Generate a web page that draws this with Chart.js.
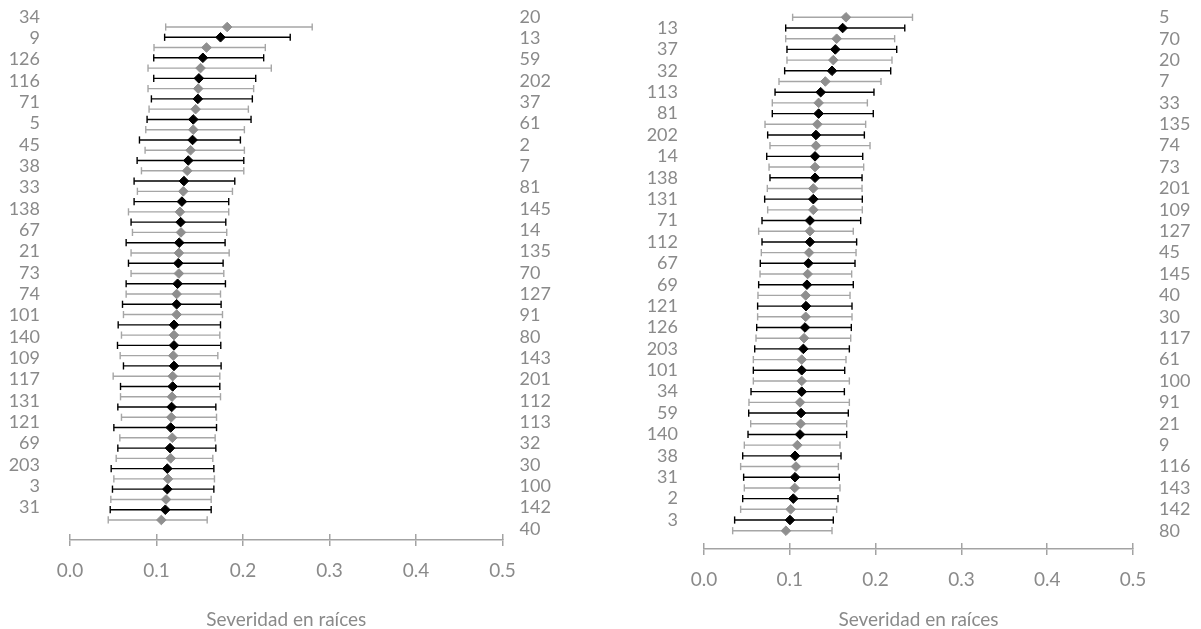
<!DOCTYPE html>
<html><head><meta charset="utf-8">
<script src="https://cdn.jsdelivr.net/npm/chart.js@4.4.1/dist/chart.umd.min.js"></script>
<style>
html,body{margin:0;padding:0;background:#fff;}
#wrap{position:relative;width:1201px;height:629px;overflow:hidden;background:#fff;}
canvas{position:absolute;top:0;}
#c1{left:0}
#c2{left:600px}
</style></head><body>
<div id="wrap"><canvas id="c1" width="600" height="629"></canvas><canvas id="c2" width="601" height="629"></canvas></div>
<script>
// ---------- Panel A (left) ----------
const labelsA_left  = ['34','9','126','116','71','5','45','38','33','138','67','21','73','74','101','140','109','117','131','121','69','203','3','31'];
const labelsA_right = ['20','13','59','202','37','61','2','7','81','145','14','135','70','127','91','80','143','201','112','113','32','30','100','142','40'];
const blackA_lo   = [0.1094,0.0968,0.0968,0.0941,0.0891,0.0803,0.0776,0.0741,0.0741,0.0706,0.0649,0.0676,0.0649,0.0607,0.0557,0.0549,0.0618,0.0584,0.0553,0.0507,0.0553,0.0476,0.0491,0.0465];
const blackA_mean = [0.1740,0.1536,0.1490,0.1478,0.1425,0.1417,0.1367,0.1317,0.1294,0.1279,0.1263,0.1252,0.1244,0.1233,0.1202,0.1202,0.1202,0.1187,0.1175,0.1164,0.1156,0.1125,0.1125,0.1102];
const blackA_hi   = [0.2546,0.2239,0.2147,0.2108,0.2093,0.1970,0.2009,0.1905,0.1835,0.1801,0.1793,0.1770,0.1797,0.1747,0.1740,0.1743,0.1747,0.1732,0.1686,0.1694,0.1686,0.1663,0.1663,0.1632];
const grayA_lo    = [0.1106,0.0971,0.0902,0.0902,0.0914,0.0876,0.0868,0.0826,0.0779,0.0676,0.0722,0.0706,0.0706,0.0649,0.0618,0.0595,0.0580,0.0499,0.0584,0.0595,0.0576,0.0534,0.0507,0.0472,0.0442];
const grayA_mean  = [0.1817,0.1578,0.1509,0.1482,0.1452,0.1425,0.1394,0.1355,0.1310,0.1271,0.1283,0.1259,0.1259,0.1233,0.1233,0.1202,0.1194,0.1187,0.1179,0.1171,0.1183,0.1164,0.1133,0.1110,0.1056];
const grayA_hi    = [0.2800,0.2258,0.2327,0.2123,0.2062,0.2016,0.2016,0.2009,0.1878,0.1835,0.1812,0.1840,0.1778,0.1740,0.1763,0.1732,0.1709,0.1732,0.1740,0.1694,0.1678,0.1651,0.1670,0.1632,0.1586];

// ---------- Panel B (right) ----------
const labelsB_left  = ['13','37','32','113','81','202','14','138','131','71','112','67','69','121','126','203','101','34','59','140','38','31','2','3'];
const labelsB_right = ['5','70','20','7','33','135','74','73','201','109','127','45','145','40','30','117','61','100','91','21','9','116','143','142','80'];
const blackB_lo   = [0.0952,0.0967,0.0940,0.0828,0.0796,0.0742,0.0731,0.0769,0.0707,0.0676,0.0676,0.0656,0.0637,0.0625,0.0614,0.0591,0.0575,0.0548,0.0521,0.0513,0.0451,0.0462,0.0451,0.0357];
const blackB_mean = [0.1616,0.1530,0.1492,0.1360,0.1336,0.1305,0.1294,0.1294,0.1274,0.1235,0.1235,0.1216,0.1200,0.1189,0.1177,0.1158,0.1139,0.1139,0.1131,0.1119,0.1061,0.1061,0.1041,0.1002];
const blackB_hi   = [0.2340,0.2246,0.2176,0.1981,0.1973,0.1869,0.1850,0.1842,0.1845,0.1826,0.1779,0.1760,0.1740,0.1725,0.1717,0.1694,0.1640,0.1636,0.1682,0.1663,0.1597,0.1577,0.1562,0.1507];
const grayB_lo    = [0.1033,0.0952,0.0967,0.0874,0.0796,0.0711,0.0769,0.0758,0.0738,0.0742,0.0637,0.0668,0.0653,0.0629,0.0625,0.0606,0.0575,0.0575,0.0524,0.0544,0.0470,0.0427,0.0470,0.0427,0.0334];
const grayB_mean  = [0.1655,0.1546,0.1507,0.1414,0.1336,0.1321,0.1305,0.1294,0.1274,0.1274,0.1235,0.1224,0.1208,0.1185,0.1185,0.1166,0.1139,0.1139,0.1119,0.1127,0.1088,0.1072,0.1057,0.1010,0.0955];
const grayB_hi    = [0.2430,0.2222,0.2191,0.2063,0.1904,0.1884,0.1935,0.1861,0.1842,0.1845,0.1740,0.1772,0.1721,0.1702,0.1725,0.1710,0.1655,0.1694,0.1694,0.1663,0.1585,0.1566,0.1585,0.1546,0.1492];

const xTicks = [0, 0.1, 0.2, 0.3, 0.4, 0.5];
const xTitle = 'Severidad en raíces';

const TXT = '#8a8a8a';
const AX = '#a3a3a3';
const BLACK = '#000000';
const GRAY_MARK = '#8f8f8f';
const GRAY_BAR = '#a6a6a6';
const FS = 18;     // row labels
const FS_TICK = 19;
const FS_TITLE = 19;
Chart.defaults.font.family = 'Lato, "Open Sans", "DejaVu Sans", sans-serif';
Chart.defaults.font.weight = '400';

function buildPanel(id, p) {
  const datasets = [];
  function addSeries(lo, mean, hi, rowOf, markColor, barColor) {
    mean.forEach((m, k) => {
      const r = rowOf(k);
      datasets.push({type:'scatter', data:[{x:m, y:r}], pointStyle:'rectRot', pointRadius:4.8, clip:false,
        pointBackgroundColor:markColor, pointBorderColor:markColor, pointBorderWidth:1, order:0});
      datasets.push({type:'line', data:[{x:lo[k], y:r},{x:hi[k], y:r}], borderColor:barColor, borderWidth:1.4, clip:false,
        pointStyle:'line', pointRotation:90, pointRadius:3.6, pointBorderColor:barColor, pointBackgroundColor:barColor,
        pointBorderWidth:1.4, fill:false, tension:0, order:1});
    });
  }
  addSeries(p.grayLo, p.grayMean, p.grayHi, k => 2*k, GRAY_MARK, GRAY_BAR);
  addSeries(p.blackLo, p.blackMean, p.blackHi, k => 2*k+1, BLACK, BLACK);

  const labelAxis = (pos, labels, values, min, max, pad, w) => ({
    type:'linear', position:pos, reverse:true, min:min, max:max,
    afterBuildTicks: s => { s.ticks = values.map(v => ({value:v})); },
    ticks:{autoSkip:false, callback:(v,i) => labels[i], color:TXT, font:{size:FS}, padding:pad},
    grid:{display:false, drawTicks:false}, border:{display:false},
    afterFit: s => { s.width = w; s.paddingTop = 0; s.paddingBottom = 0; }
  });

  new Chart(document.getElementById(id), {
    type:'scatter',
    data:{datasets},
    options:{
      responsive:false, animation:false, events:[],
      layout:{padding:{top:17, left:0, right:0, bottom:0}},
      plugins:{legend:{display:false}, tooltip:{enabled:false}},
      scales:{
        x:{type:'linear', position:'bottom', min:0, max:0.5,
          afterBuildTicks: s => { s.ticks = xTicks.map(v => ({value:v})); },
          ticks:{callback:v => v.toFixed(1), color:TXT, font:{size:FS_TICK}, padding:p.tickPad, maxRotation:0, autoSkip:false},
          grid:{drawOnChartArea:false, color:AX, lineWidth:1.5, tickLength:6},
          border:{color:AX, width:1.5},
          title:{display:true, text:xTitle, color:TXT, font:{size:FS_TITLE, lineHeight:0.95}, padding:{top:0, bottom:0}},
          afterFit: s => { s.height = p.xHeight; s.paddingLeft = 0; s.paddingRight = 0; }
        },
        x2:{type:'linear', position:{y:p.yMax}, min:0, max:0.5,
          afterBuildTicks: s => { s.ticks = xTicks.map(v => ({value:v})); },
          ticks:{display:false},
          grid:{drawOnChartArea:false, color:AX, lineWidth:1.5, tickLength:-6},
          border:{display:false},
          afterFit: s => { s.paddingLeft = 0; s.paddingRight = 0; }
        },
        y:{type:'linear', display:false, reverse:true, min:p.yMin, max:p.yMax},
        yl: labelAxis('left', p.leftLabels, p.leftVals, p.labMin, p.labMax, p.leftPad, p.leftW),
        yr: labelAxis('right', p.rightLabels, p.rightVals, p.labMin, p.labMax, p.rightPad, p.rightW)
      }
    }
  });
}

// Left panel: labels on a 21.33 px grid, points on a 10.27 px row grid
buildPanel('c1', {
  grayLo:grayA_lo, grayMean:grayA_mean, grayHi:grayA_hi,
  blackLo:blackA_lo, blackMean:blackA_mean, blackHi:blackA_hi,
  leftLabels:labelsA_left, rightLabels:labelsA_right,
  leftVals:labelsA_left.map((_,i)=>i), rightVals:labelsA_right.map((_,i)=>i),
  labMin:0, labMax:24.52,
  yMin:-0.974, yMax:49.95,
  leftPad:30, leftW:70, rightPad:17, rightW:97.5,
  xHeight:89, tickPad:13
});

// Right panel: labels aligned with the rows
buildPanel('c2', {
  grayLo:grayB_lo, grayMean:grayB_mean, grayHi:grayB_hi,
  blackLo:blackB_lo, blackMean:blackB_mean, blackHi:blackB_hi,
  leftLabels:labelsB_left, rightLabels:labelsB_right,
  leftVals:labelsB_left.map((_,i)=>2*i+1), rightVals:labelsB_right.map((_,i)=>2*i),
  labMin:-0.03, labMax:49.71,
  yMin:-0.03, yMax:49.71,
  leftPad:26, leftW:104, rightPad:26, rightW:68,
  xHeight:80, tickPad:13
});
</script>
</body></html>
